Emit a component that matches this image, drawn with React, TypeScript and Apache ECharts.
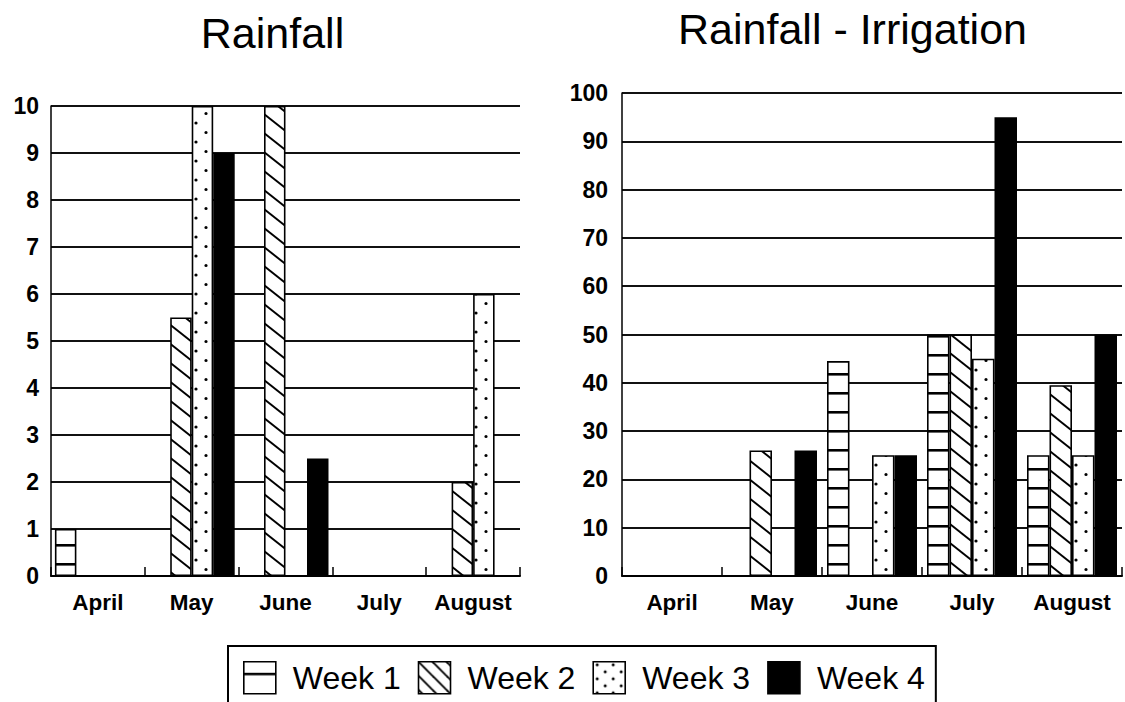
import React, { useEffect, useRef } from 'react';
import * as echarts from 'echarts';

const categories = ['April', 'May', 'June', 'July', 'August'];
const weekNames = ['Week 1', 'Week 2', 'Week 3', 'Week 4'];

const rainfallWeek1 = [1, 0, 0, 0, 0];
const rainfallWeek2 = [0, 5.5, 10, 0, 2];
const rainfallWeek3 = [0, 10, 0, 0, 6];
const rainfallWeek4 = [0, 9, 2.5, 0, 0];

const irrigationWeek1 = [0, 0, 44.5, 50, 25];
const irrigationWeek2 = [0, 26, 0, 50, 39.5];
const irrigationWeek3 = [0, 0, 25, 45, 25];
const irrigationWeek4 = [0, 26, 25, 95, 50];

const rainfallAxis = { min: 0, max: 10, interval: 1 };
const irrigationAxis = { min: 0, max: 100, interval: 10 };

const titles = ['Rainfall', 'Rainfall - Irrigation'];

const FONT = "'Liberation Sans', Arial, Helvetica, sans-serif";

function makeTile(w: number, h: number, draw: (ctx: CanvasRenderingContext2D) => void) {
  const c = document.createElement('canvas');
  c.width = w;
  c.height = h;
  const ctx = c.getContext('2d') as CanvasRenderingContext2D;
  ctx.fillStyle = '#fff';
  ctx.fillRect(0, 0, w, h);
  ctx.fillStyle = '#000';
  ctx.strokeStyle = '#000';
  draw(ctx);
  return { image: c, repeat: 'repeat' } as any;
}

function dot(ctx: CanvasRenderingContext2D, x: number, y: number, r: number) {
  ctx.beginPath();
  ctx.arc(x, y, r, 0, Math.PI * 2);
  ctx.fill();
}

function makePatterns() {
  const horiz = makeTile(4, 19, (ctx) => {
    ctx.fillRect(0, 12, 4, 2);
    ctx.fillStyle = 'rgba(0,0,0,0.6)';
    ctx.fillRect(0, 14, 4, 1);
  });
  const diag = makeTile(24, 19, (ctx) => {
    ctx.lineWidth = 1.9;
    for (const k of [-1, 0, 1]) {
      ctx.beginPath();
      ctx.moveTo(-4, (19 / 24) * -4 + k * 19);
      ctx.lineTo(28, (19 / 24) * 28 + k * 19);
      ctx.stroke();
    }
  });
  const dots = makeTile(20, 19, (ctx) => {
    dot(ctx, 16, 9, 1.6);
    dot(ctx, 6, 18.5, 1.6);
    dot(ctx, 6, -0.5, 1.6);
  });
  return [horiz, diag, dots, '#000'];
}

function makeLegendPatterns() {
  // Legend week 1 icon: one line across the middle of the swatch
  const horiz = makeTile(4, 32, (ctx) => {
    ctx.fillRect(0, 11, 4, 2);
    ctx.fillStyle = 'rgba(0,0,0,0.5)';
    ctx.fillRect(0, 13, 4, 1);
  });
  // Week 2 icon: steeper diagonal lines
  const diag = makeTile(14, 14, (ctx) => {
    ctx.lineWidth = 1.9;
    for (const k of [-1, 0, 1]) {
      ctx.beginPath();
      ctx.moveTo(-3, -3 + k * 14);
      ctx.lineTo(17, 17 + k * 14);
      ctx.stroke();
    }
  });
  const dots = makeTile(16, 14, (ctx) => {
    dot(ctx, 4, 3, 1.5);
    dot(ctx, 12, 10, 1.5);
  });
  return [horiz, diag, dots, '#000'];
}

export default function App() {
  const ref = useRef<HTMLDivElement>(null);

  useEffect(() => {
    if (!ref.current) return;
    const chart = echarts.init(ref.current, undefined, { renderer: 'svg' });
    const patterns = makePatterns();
    const legendPatterns = makeLegendPatterns();

    const rainfall = [rainfallWeek1, rainfallWeek2, rainfallWeek3, rainfallWeek4];
    const irrigation = [irrigationWeek1, irrigationWeek2, irrigationWeek3, irrigationWeek4];

    const mkSeries = (data: number[], i: number, axis: number, bw: number) => ({
      type: 'bar',
      name: weekNames[i],
      data: data.map((v) => (v === 0 ? null : v)),
      xAxisIndex: axis,
      yAxisIndex: axis,
      barWidth: bw,
      barGap: '0%',
      silent: true,
      emphasis: { disabled: true },
      itemStyle: { color: patterns[i], borderColor: '#000', borderWidth: 1.6 },
    });

    const xAxisBase = (gridIndex: number) => ({
      type: 'category',
      gridIndex,
      data: categories,
      boundaryGap: true,
      axisLine: { show: true, lineStyle: { color: '#000', width: 2 } },
      axisTick: { show: true, inside: true, length: 9, interval: 0, lineStyle: { color: '#000', width: 1.5 } },
      axisLabel: { color: '#000', fontWeight: 'bold', fontSize: 22.5, fontFamily: FONT, margin: 15, interval: 0 },
      splitLine: { show: false },
    });

    const yAxisBase = (gridIndex: number, cfg: any, margin: number) => ({
      type: 'value',
      gridIndex,
      min: cfg.min,
      max: cfg.max,
      interval: cfg.interval,
      axisLine: { show: true, lineStyle: { color: '#000', width: 1.5 } },
      axisTick: { show: false },
      axisLabel: { color: '#000', fontWeight: 'bold', fontSize: 23, fontFamily: FONT, margin },
      splitLine: { show: true, lineStyle: { color: '#111', width: 1.9 } },
    });

    chart.setOption({
      animation: false,
      backgroundColor: '#fff',
      graphic: [
        {
          type: 'text',
          x: 272.5,
          y: 32.5,
          style: { text: titles[0], fontSize: 43, fontFamily: FONT, fill: '#000', textAlign: 'center', textVerticalAlign: 'middle' },
        },
        {
          type: 'text',
          x: 852.5,
          y: 29,
          style: { text: titles[1], fontSize: 43, fontFamily: FONT, fill: '#000', textAlign: 'center', textVerticalAlign: 'middle' },
        },
      ],
      legend: {
        data: weekNames.map((n, i) => ({
          name: n,
          itemStyle: { color: legendPatterns[i], borderColor: '#000', borderWidth: 1.6 },
        })),
        left: 228,
        top: 646,
        orient: 'horizontal',
        icon: 'rect',
        itemWidth: 32,
        itemHeight: 32,
        itemGap: 17,
        padding: [15, 11, 15, 15],
        borderColor: '#000',
        borderWidth: 2,
        selectedMode: false,
        textStyle: { fontSize: 32, color: '#000', fontFamily: FONT, padding: [0, 0, 0, 12] },
      },
      grid: [
        { left: 51, top: 106, width: 469, height: 470 },
        { left: 622, top: 93, width: 500, height: 483 },
      ],
      xAxis: [xAxisBase(0), xAxisBase(1)],
      yAxis: [yAxisBase(0, rainfallAxis, 12), yAxisBase(1, irrigationAxis, 14)],
      series: [
        ...rainfall.map((d, i) => mkSeries(d, i, 0, 21.5)),
        ...irrigation.map((d, i) => mkSeries(d, i, 1, 22.5)),
      ],
    } as any);

    return () => chart.dispose();
  }, []);

  return (
    <div
      ref={ref}
      style={{ position: 'absolute', left: 0, top: 0, width: 1125, height: 702, background: '#fff' }}
    />
  );
}
